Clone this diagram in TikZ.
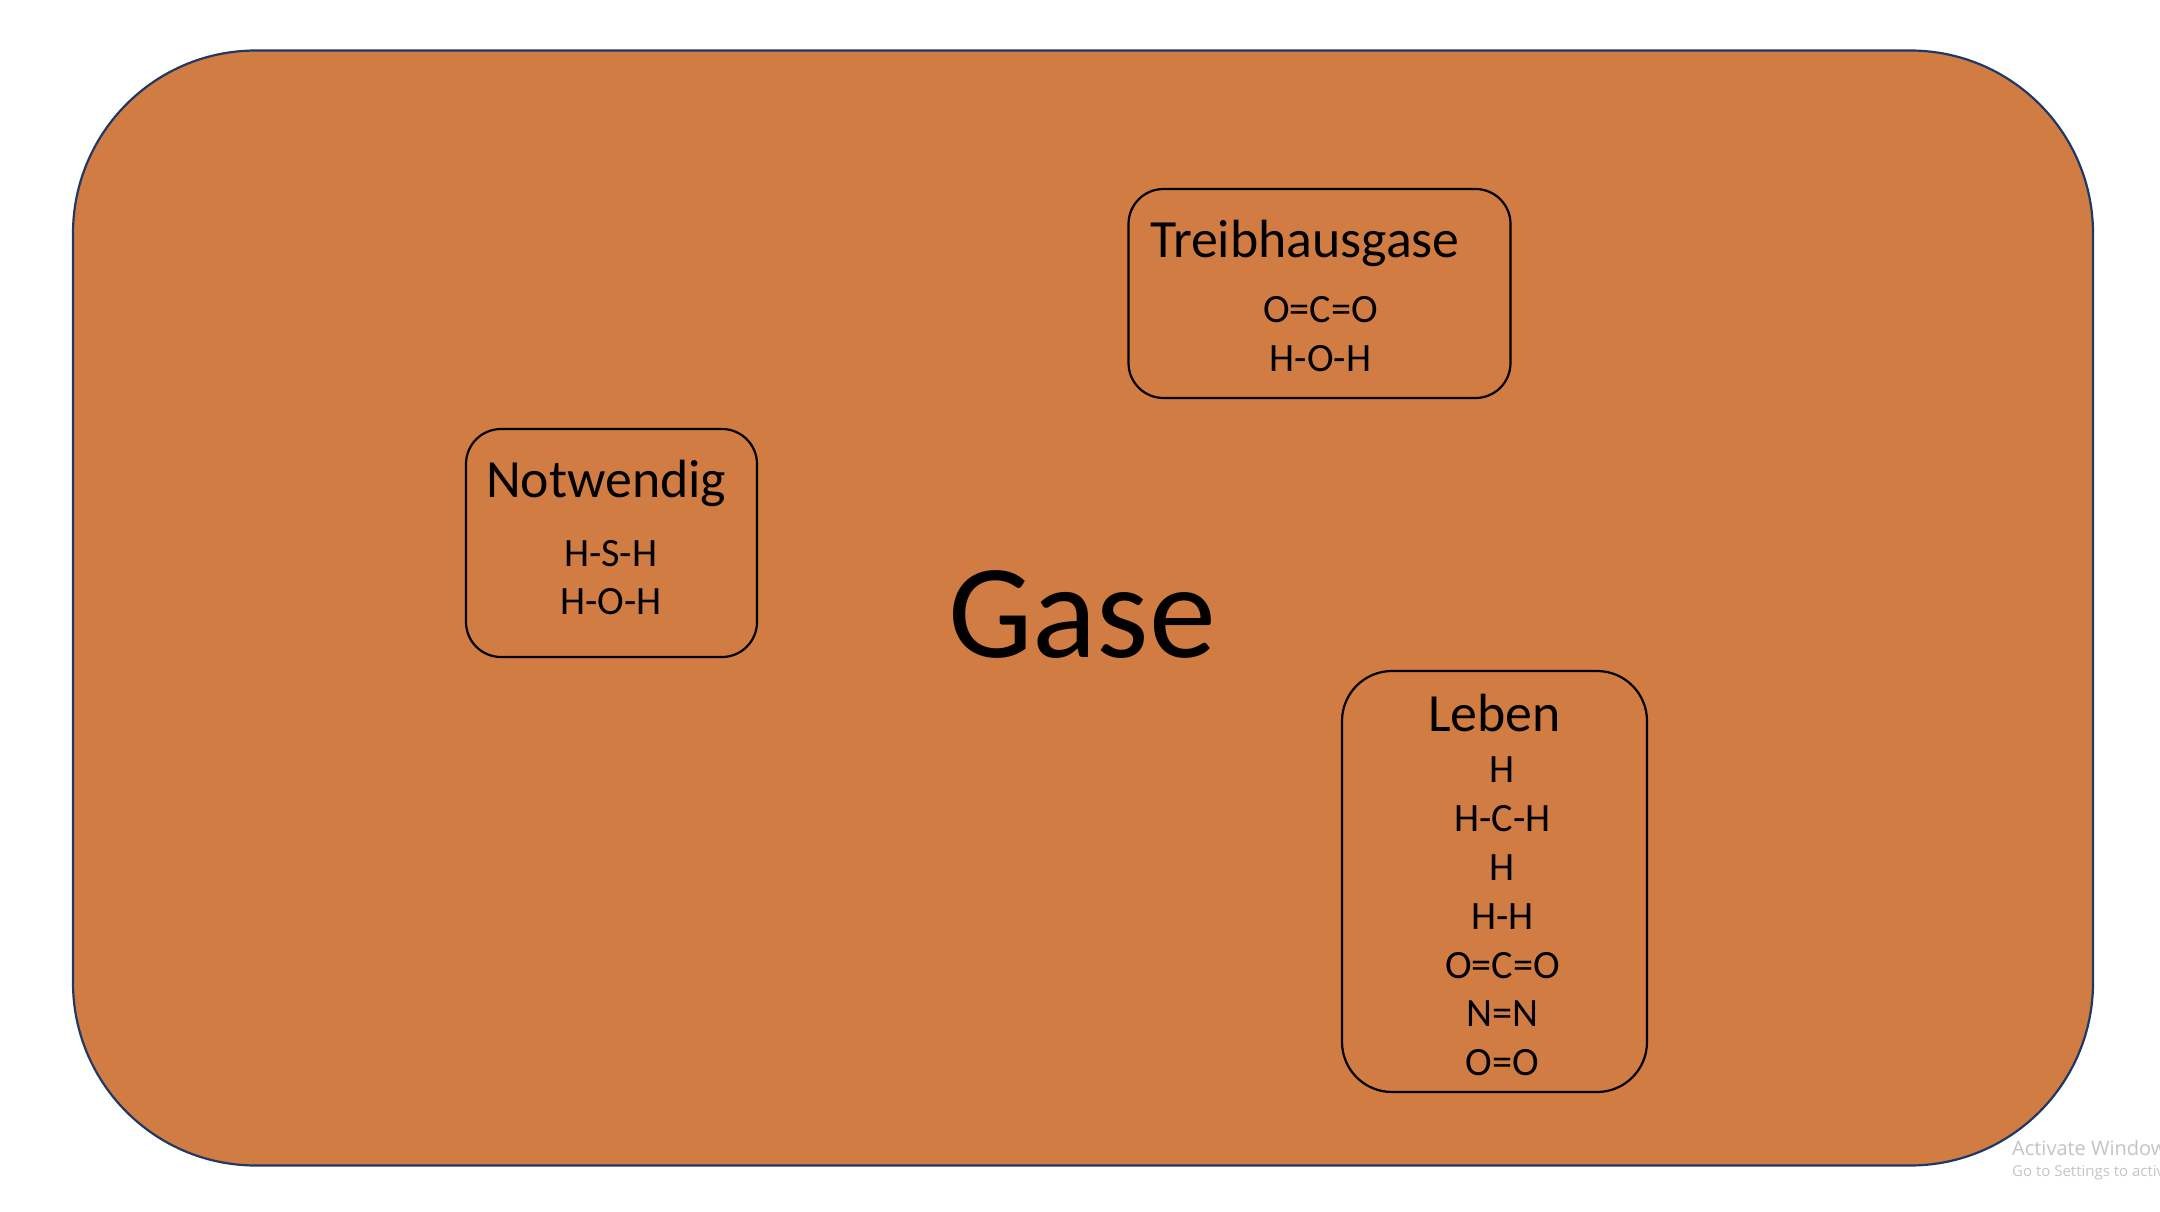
\documentclass[tikz,border=0pt]{standalone}
\usepackage{fontspec}
\setmainfont{Carlito}
\newfontfamily\winfont{Open Sans}
\definecolor{fillorange}{HTML}{D07C43}
\definecolor{edgenavy}{HTML}{1F3864}
\definecolor{wingray}{HTML}{C4C4C4}
\tikzset{
  outerbox/.style={draw=edgenavy,line width=2.2pt,fill=fillorange,rounded corners=183pt,inner sep=0pt},
  groupbox/.style={draw=black,line width=2.2pt,rounded corners=#1,inner sep=0pt},
  gtitle/.style={inner sep=0pt,anchor=base west,font=\fontsize{53.8}{54}\selectfont},
  formula/.style={inner sep=0pt,anchor=center,align=center,font=\fontsize{40.2}{48.8}\selectfont},
  wintext/.style={inner sep=0pt,anchor=base west,text=wingray}
}
\begin{document}
\begin{tikzpicture}[x=1pt,y=-1pt]
\useasboundingbox (0,0) rectangle (2160,1212);
\node[outerbox,minimum width=2020pt,minimum height=1115pt] (outer) at (1083,608) {};
\node[groupbox=35pt,minimum width=382pt,minimum height=209pt] (treib) at (1319.5,293.5) {};
\node[groupbox=35pt,minimum width=291pt,minimum height=228pt] (notw) at (611.5,543) {};
\node[groupbox=50pt,minimum width=305pt,minimum height=421pt] (leben) at (1494.5,881.5) {};
\node[inner sep=0pt,anchor=base,font=\fontsize{134}{134}\selectfont] (gase) at (1082,657) {Gase};
\node[gtitle] (ttreib) at (1150,257) {Treibhausgase};
\node[formula] (ftreib) at (1320.5,334) {O=C=O\\H-O-H};
\node[gtitle] (tnotw) at (486,497.5) {Notwendig};
\node[formula] (fnotw) at (610.8,577.5) {H-S-H\\H-O-H};
\node[gtitle,anchor=base] (tleben) at (1494.5,731.5) {Leben};
\node[formula] (fleben) at (1502.5,916.5) {H\\H-C-H\\H\\H-H\\O=C=O\\N=N\\O=O};
\node[wintext,font=\winfont\fontsize{20}{20}\selectfont] (act) at (2012,1155) {Activate Windows};
\node[wintext,font=\winfont\fontsize{15}{15}\selectfont] (go) at (2012,1176.5) {Go to Settings to activate Windows.};
\end{tikzpicture}
\end{document}
